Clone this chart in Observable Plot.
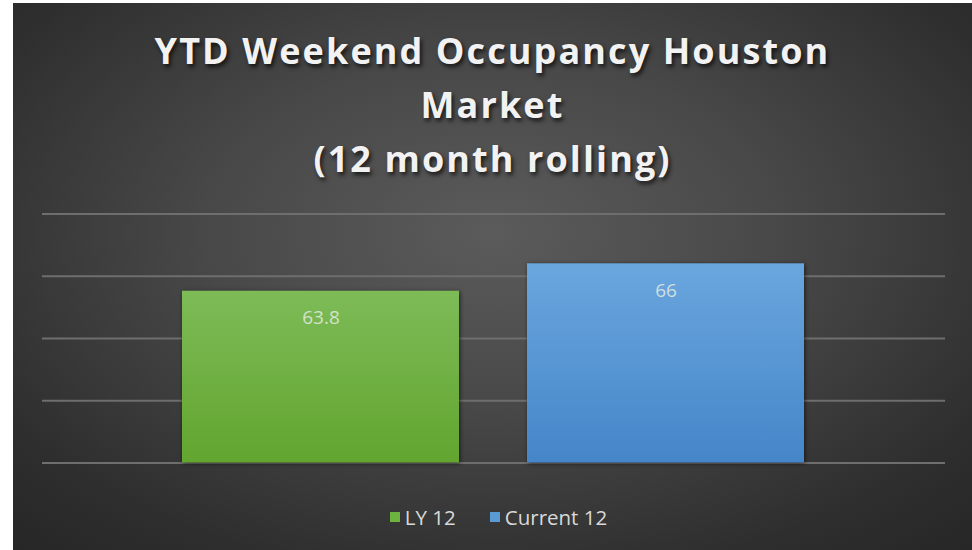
<!DOCTYPE html>
<html>
<head>
<meta charset="utf-8">
<script src="https://cdn.jsdelivr.net/npm/d3@7"></script>
<script src="https://cdn.jsdelivr.net/npm/@observablehq/plot@0.6"></script>
<style>
  html, body { margin: 0; padding: 0; background: #fff; }
  #chart {
    position: absolute; left: 13px; top: 3px; width: 959px; height: 547px;
    background: radial-gradient(ellipse 75% 80% at 50% 42%, #5b5b5b 0%, #484848 40%, #2e2e2e 80%, #262626 100%);
    overflow: hidden;
  }
  #title {
    position: absolute; left: 0; top: 21px; width: 100%; text-align: center;
    font-family: "Open Sans", sans-serif; font-weight: 700; font-size: 36px;
    line-height: 54px; letter-spacing: 2.1px; color: #f2f2f2;
    text-shadow: 2px 3px 4px rgba(0,0,0,0.7);
  }
  #plot { position: absolute; left: 0; top: 0; }
  #legend {
    position: absolute; left: 6px; width: 100%; top: 497px; text-align: center;
    font-family: "Open Sans", sans-serif; font-size: 20.5px; color: #d9d9d9;
  }
  #legend span.item { display: inline-flex; align-items: center; margin: 0 17px; }
  #legend span.sw { display: inline-block; width: 10px; height: 10px; margin-right: 5px; }
</style>
</head>
<body>
<div id="chart">
  <div id="title"></div>
  <div id="plot"></div>
  <div id="legend"></div>
</div>
<script>
const titleLines = ["YTD Weekend Occupancy Houston", "Market", "(12 month rolling)"];
const categories = ["LY 12", "Current 12"];
const values = [63.8, 66];
const labels = ["63.8", "66"];
const colors = ["#6db33f", "#5b9bd5"];
const gridValues = [50, 55, 60, 65, 70];
const yDomain = [50, 70];

const data = categories.map((c, i) => ({cat: c, value: values[i], label: labels[i]}));

document.getElementById("title").innerHTML = titleLines.join("<br>");

const plot = Plot.plot({
  width: 959,
  height: 547,
  marginLeft: 29,
  marginRight: 27,
  marginTop: 210.5,
  marginBottom: 87.5,
  style: {background: "transparent", overflow: "visible"},
  x: {domain: categories, axis: null, paddingInner: 0.197, paddingOuter: 0.405},
  y: {domain: yDomain, axis: null},
  marks: [
    Plot.ruleY(gridValues, {stroke: "#6e6e6e", strokeWidth: 2}),
    Plot.barY(data, {x: "cat", y1: yDomain[0], y2: "value", fill: (d) => `url(#grad${categories.indexOf(d.cat)})`}),
    Plot.text(data, {x: "cat", y: "value", text: "label", dy: 27, fill: "#e4ebe0", fillOpacity: 0.85,
      fontSize: 19, fontFamily: "'Open Sans', sans-serif"})
  ]
});

// gradients for bars
const svg = d3.select(plot);
const defs = svg.insert("defs", ":first-child");
const grads = [["#7dbb57", "#62a52f"], ["#6aa6de", "#4586c9"]];
grads.forEach((g, i) => {
  const lg = defs.append("linearGradient").attr("id", "grad" + i)
    .attr("x1", 0).attr("y1", 0).attr("x2", 0).attr("y2", 1);
  lg.append("stop").attr("offset", "0%").attr("stop-color", g[0]);
  lg.append("stop").attr("offset", "100%").attr("stop-color", g[1]);
});
svg.selectAll("g[aria-label='bar'] rect").attr("style", "filter: drop-shadow(1px 1px 2px rgba(0,0,0,0.6))");
document.getElementById("plot").appendChild(plot);

const legend = document.getElementById("legend");
categories.forEach((c, i) => {
  const item = document.createElement("span");
  item.className = "item";
  item.innerHTML = `<span class="sw" style="background:${colors[i]}"></span>${c}`;
  legend.appendChild(item);
});
</script>
</body>
</html>
